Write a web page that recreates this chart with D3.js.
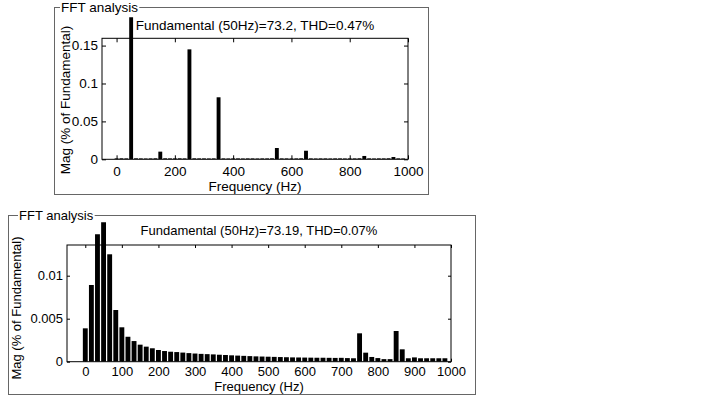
<!DOCTYPE html>
<html>
<head>
<meta charset="utf-8">
<script src="https://cdn.jsdelivr.net/npm/d3@7"></script>
<style>
  body { margin: 0; background: #fff; }
  svg { display: block; font-family: Arial, "Liberation Sans", sans-serif; }
</style>
</head>
<body>
<div id="chart"></div>
<script>
// FFT bins (Hz), 3-cycle window -> 16.67 Hz resolution
const freqs = [
    0, 16.67, 33.33, 50, 66.67, 83.33,
    100, 116.67, 133.33, 150, 166.67, 183.33,
    200, 216.67, 233.33, 250, 266.67, 283.33,
    300, 316.67, 333.33, 350, 366.67, 383.33,
    400, 416.67, 433.33, 450, 466.67, 483.33,
    500, 516.67, 533.33, 550, 566.67, 583.33,
    600, 616.67, 633.33, 650, 666.67, 683.33,
    700, 716.67, 733.33, 750, 766.67, 783.33,
    800, 816.67, 833.33, 850, 866.67, 883.33,
    900, 916.67, 933.33, 950, 966.67, 983.33
];

const topMag = [
    0.0012, 0.0013, 0.0012, 100, 0.0013, 0.0012,
    0.0011, 0.0012, 0.0013, 0.0101, 0.0013, 0.0012,
    0.0012, 0.0013, 0.0012, 0.145, 0.0013, 0.0012,
    0.0012, 0.0011, 0.0012, 0.0818, 0.0012, 0.0011,
    0.0012, 0.0012, 0.0011, 0.0012, 0.0012, 0.0011,
    0.0012, 0.0012, 0.0013, 0.0149, 0.0012, 0.0012,
    0.0011, 0.0012, 0.0013, 0.0113, 0.0012, 0.0011,
    0.0012, 0.0012, 0.0011, 0.0012, 0.0012, 0.0011,
    0.0012, 0.0012, 0.0013, 0.0044, 0.0012, 0.0011,
    0.0012, 0.0012, 0.0013, 0.0030, 0.0012, 0.0011
];

const bottomMag = [
    0.00388, 0.00892, 0.01482, 100, 0.01249, 0.00601,
    0.0040, 0.0029, 0.0024, 0.00198, 0.00175, 0.00156,
    0.00136, 0.00124, 0.00116, 0.00112, 0.00106, 0.00100,
    0.00095, 0.00091, 0.00088, 0.00085, 0.00081, 0.00078,
    0.00074, 0.00071, 0.00068, 0.00065, 0.00062, 0.00060,
    0.00058, 0.00056, 0.00054, 0.00052, 0.00050, 0.00049,
    0.00048, 0.00047, 0.00046, 0.00046, 0.00045, 0.00044,
    0.00045, 0.00042, 0.00040, 0.0033, 0.00105, 0.00055,
    0.00042, 0.00030, 0.00030, 0.00357, 0.00144, 0.00040,
    0.00050, 0.00040, 0.00040, 0.00040, 0.00040, 0.00040
];

const topXTicks = [0, 200, 400, 600, 800, 1000];
const topYTicks = [0, 0.05, 0.1, 0.15];
const bottomXTicks = [0, 100, 200, 300, 400, 500, 600, 700, 800, 900, 1000];
const bottomYTicks = [0, 0.005, 0.01];

const topTitle = "Fundamental (50Hz)=73.2, THD=0.47%";
const bottomTitle = "Fundamental (50Hz)=73.19, THD=0.07%";
const panelLabel = "FFT analysis";
const xLabel = "Frequency (Hz)";
const yLabel = "Mag (% of Fundamental)";

const binWidth = 0.8 * (50 / 3);

const svg = d3.select("#chart")
    .append("svg")
    .attr("width", 722)
    .attr("height", 397);

function drawPanel(cfg) {
    const g = svg.append("g");

    // panel frame with label
    g.append("rect")
        .attr("x", cfg.frame[0] + 0.5).attr("y", cfg.frame[1] + 0.5)
        .attr("width", cfg.frame[2] - cfg.frame[0]).attr("height", cfg.frame[3] - cfg.frame[1])
        .attr("fill", "none").attr("stroke", "#666");
    const lbl = g.append("text")
        .attr("x", cfg.labelX).attr("y", cfg.frame[1] + 5)
        .style("font-size", cfg.font + "px")
        .text(panelLabel);
    const bb = lbl.node().getBBox();
    g.insert("rect", "text")
        .attr("x", bb.x - 1).attr("y", bb.y)
        .attr("width", bb.width + 2).attr("height", bb.height)
        .attr("fill", "#fff");

    const x = d3.scaleLinear().domain([-50, 1000]).range([cfg.left, cfg.right]);
    const y = d3.scaleLinear().domain([0, cfg.yMax]).range([cfg.bottom, cfg.top]);

    const clipId = "clip" + cfg.id;
    g.append("clipPath").attr("id", clipId)
        .append("rect")
        .attr("x", cfg.left).attr("y", cfg.top - cfg.overshoot)
        .attr("width", cfg.right - cfg.left).attr("height", cfg.bottom - cfg.top + cfg.overshoot);

    g.append("g")
        .attr("clip-path", `url(#${clipId})`)
        .selectAll("rect")
        .data(freqs.map((f, i) => ({ f, v: cfg.mag[i] })))
        .enter()
        .append("rect")
        .attr("x", d => x(d.f - binWidth / 2))
        .attr("width", d => x(d.f + binWidth / 2) - x(d.f - binWidth / 2))
        .attr("y", d => y(d.v))
        .attr("height", d => y(0) - y(d.v))
        .attr("fill", "#000");

    // axes, ticks pointing inward
    const fmt = d3.format("~g");
    const ax = [
        g.append("g").attr("transform", `translate(0,${cfg.bottom})`)
            .call(d3.axisBottom(x).tickValues(cfg.xTicks).tickSizeInner(-cfg.tick).tickSizeOuter(0).tickPadding(cfg.xPad).tickFormat(fmt)),
        g.append("g").attr("transform", `translate(0,${cfg.top})`)
            .call(d3.axisTop(x).tickValues(cfg.xTicks).tickSizeInner(-cfg.tick).tickSizeOuter(0).tickFormat("")),
        g.append("g").attr("transform", `translate(${cfg.left},0)`)
            .call(d3.axisLeft(y).tickValues(cfg.yTicks).tickSizeInner(-cfg.tick).tickSizeOuter(0).tickPadding(4).tickFormat(fmt)),
        g.append("g").attr("transform", `translate(${cfg.right},0)`)
            .call(d3.axisRight(y).tickValues(cfg.yTicks).tickSizeInner(-cfg.tick).tickSizeOuter(0).tickFormat(""))
    ];
    ax.forEach(a => {
        a.select(".domain").remove();
        a.attr("font-family", null);
        a.selectAll("text").style("font-size", cfg.font + "px").attr("fill", "#000");
    });

    g.append("rect")
        .attr("x", cfg.left).attr("y", cfg.top)
        .attr("width", cfg.right - cfg.left).attr("height", cfg.bottom - cfg.top)
        .attr("fill", "none").attr("stroke", "#000");

    g.append("text")
        .attr("x", (cfg.left + cfg.right) / 2).attr("y", cfg.titleY)
        .attr("text-anchor", "middle")
        .style("font-size", cfg.font + "px")
        .text(cfg.title);

    g.append("text")
        .attr("x", (cfg.left + cfg.right) / 2).attr("y", cfg.xLabelY)
        .attr("text-anchor", "middle")
        .style("font-size", cfg.font + "px")
        .text(xLabel);

    g.append("text")
        .attr("transform", `translate(${cfg.yLabelX},${cfg.yLabelY}) rotate(-90)`)
        .attr("text-anchor", "middle")
        .style("font-size", cfg.font + "px")
        .text(yLabel);
}

drawPanel({
    id: "top", mag: topMag, title: topTitle,
    xTicks: topXTicks, yTicks: topYTicks, yMax: 0.1596,
    frame: [54, 7, 428, 194], labelX: 61,
    left: 102, right: 408, top: 38.3, bottom: 159.3,
    overshoot: 21, tick: 4, xPad: 7, font: 13.5,
    titleY: 30, xLabelY: 191, yLabelX: 70, yLabelY: 100
});

drawPanel({
    id: "bottom", mag: bottomMag, title: bottomTitle,
    xTicks: bottomXTicks, yTicks: bottomYTicks, yMax: 0.01357,
    frame: [8, 215, 475, 394], labelX: 19,
    left: 67, right: 451, top: 245, bottom: 361.7,
    overshoot: 22.7, tick: 3, xPad: 5.2, font: 13,
    titleY: 235, xLabelY: 390.5, yLabelX: 20.5, yLabelY: 308
});
</script>
</body>
</html>
